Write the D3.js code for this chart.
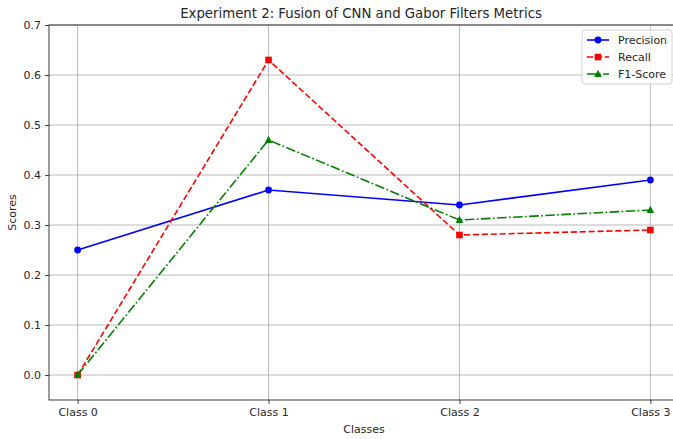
<!DOCTYPE html>
<html>
<head>
<meta charset="utf-8">
<script src="https://cdn.jsdelivr.net/npm/d3@7"></script>
<style>
  body { margin: 0; background: #fff; }
  text { font-family: "DejaVu Sans", sans-serif; fill: #262626; }
</style>
</head>
<body>
<div id="chart"></div>
<script>
// chart data
var classes = ["Class 0", "Class 1", "Class 2", "Class 3"];
var precision = [0.25, 0.37, 0.34, 0.39];
var recall = [0.0, 0.63, 0.28, 0.29];
var f1Score = [0.0, 0.47, 0.31, 0.33];
var yTicks = [0.0, 0.1, 0.2, 0.3, 0.4, 0.5, 0.6, 0.7];

var svgWidth = 673;
var svgHeight = 439;

var margin = { top: 25, right: -6, bottom: 39, left: 49 };
var width = svgWidth - margin.left - margin.right;
var height = svgHeight - margin.top - margin.bottom;

var svg = d3.select("#chart")
  .append("svg")
  .attr("width", svgWidth)
  .attr("height", svgHeight);

var chartGroup = svg.append("g")
  .attr("transform", `translate(${margin.left}, ${margin.top})`);

// scales
var xScale = d3.scaleLinear()
  .domain([-0.15, 3.15])
  .range([0, width]);

var yScale = d3.scaleLinear()
  .domain([-0.05, 0.7])
  .range([height, 0]);

// grid
chartGroup.append("g")
  .selectAll("line")
  .data(yTicks)
  .enter()
  .append("line")
  .attr("x1", 0)
  .attr("x2", width)
  .attr("y1", d => yScale(d))
  .attr("y2", d => yScale(d))
  .attr("stroke", "#b0b0b0")
  .attr("stroke-width", 0.9);

chartGroup.append("g")
  .selectAll("line")
  .data(classes)
  .enter()
  .append("line")
  .attr("x1", (d, i) => xScale(i))
  .attr("x2", (d, i) => xScale(i))
  .attr("y1", 0)
  .attr("y2", height)
  .attr("stroke", "#b0b0b0")
  .attr("stroke-width", 0.9);

// axes
var bottomAxis = d3.axisBottom(xScale)
  .tickValues(d3.range(classes.length))
  .tickFormat(i => classes[i])
  .tickSize(3.9)
  .tickPadding(4);

var leftAxis = d3.axisLeft(yScale)
  .tickValues(yTicks)
  .tickFormat(d3.format(".1f"))
  .tickSize(3.9)
  .tickPadding(4);

var xAxisG = chartGroup.append("g")
  .attr("transform", `translate(0, ${height})`)
  .call(bottomAxis);

var yAxisG = chartGroup.append("g")
  .call(leftAxis);

[xAxisG, yAxisG].forEach(function(g) {
  g.select(".domain").remove();
  g.selectAll("line").attr("stroke", "#262626").attr("stroke-width", 0.9);
  g.selectAll("text")
    .style("font-family", "DejaVu Sans, sans-serif")
    .style("font-size", "11px")
    .attr("fill", "#262626");
});

// spines
chartGroup.append("rect")
  .attr("x", 0)
  .attr("y", 0)
  .attr("width", width)
  .attr("height", height)
  .attr("fill", "none")
  .attr("stroke", "#262626")
  .attr("stroke-width", 0.9);

// series
var series = [
  { name: "Precision", values: precision, color: "#0000ff", dash: null, marker: "circle" },
  { name: "Recall", values: recall, color: "#ff0000", dash: "6.2,2.7", marker: "square" },
  { name: "F1-Score", values: f1Score, color: "#008000", dash: "9.6,2.4,1.7,2.4", marker: "triangle" }
];

var line = d3.line()
  .x((d, i) => xScale(i))
  .y(d => yScale(d));

function drawMarker(g, type, color) {
  if (type === "circle") {
    g.append("circle").attr("r", 3.4).attr("fill", color);
  } else if (type === "square") {
    g.append("rect").attr("x", -3.3).attr("y", -3.3).attr("width", 6.6).attr("height", 6.6).attr("fill", color);
  } else {
    g.append("path").attr("d", "M0,-4.2L3.8,3L-3.8,3Z").attr("fill", color);
  }
}

series.forEach(function(s) {
  chartGroup.append("path")
    .datum(s.values)
    .attr("d", line)
    .attr("fill", "none")
    .attr("stroke", s.color)
    .attr("stroke-width", 1.6)
    .attr("stroke-dasharray", s.dash);

  s.values.forEach(function(v, i) {
    var g = chartGroup.append("g")
      .attr("transform", `translate(${xScale(i)}, ${yScale(v)})`);
    drawMarker(g, s.marker, s.color);
  });
});

// legend
var legend = svg.append("g").attr("transform", "translate(582, 30)");
legend.append("rect")
  .attr("width", 90)
  .attr("height", 54)
  .attr("rx", 3)
  .attr("fill", "#fff")
  .attr("fill-opacity", 0.8)
  .attr("stroke", "#cccccc")
  .attr("stroke-width", 0.9);

series.forEach(function(s, i) {
  var row = legend.append("g").attr("transform", `translate(0, ${10 + i * 17})`);
  row.append("line")
    .attr("x1", 5)
    .attr("x2", 27)
    .attr("stroke", s.color)
    .attr("stroke-width", 1.6)
    .attr("stroke-dasharray", s.dash);
  var m = row.append("g").attr("transform", "translate(16, 0)");
  drawMarker(m, s.marker, s.color);
  row.append("text")
    .attr("x", 36)
    .attr("y", 4)
    .style("font-size", "11px")
    .text(s.name);
});

// title and axis labels
svg.append("text")
  .attr("x", margin.left + (673 - margin.left) / 2 + 0)
  .attr("y", 18)
  .attr("text-anchor", "middle")
  .style("font-size", "13.3px")
  .text("Experiment 2: Fusion of CNN and Gabor Filters Metrics");

svg.append("text")
  .attr("transform", `translate(16, ${margin.top + height / 2}) rotate(-90)`)
  .attr("text-anchor", "middle")
  .style("font-size", "11px")
  .text("Scores");

svg.append("text")
  .attr("x", margin.left + width / 2)
  .attr("y", 433)
  .attr("text-anchor", "middle")
  .style("font-size", "11px")
  .text("Classes");
</script>
</body>
</html>
